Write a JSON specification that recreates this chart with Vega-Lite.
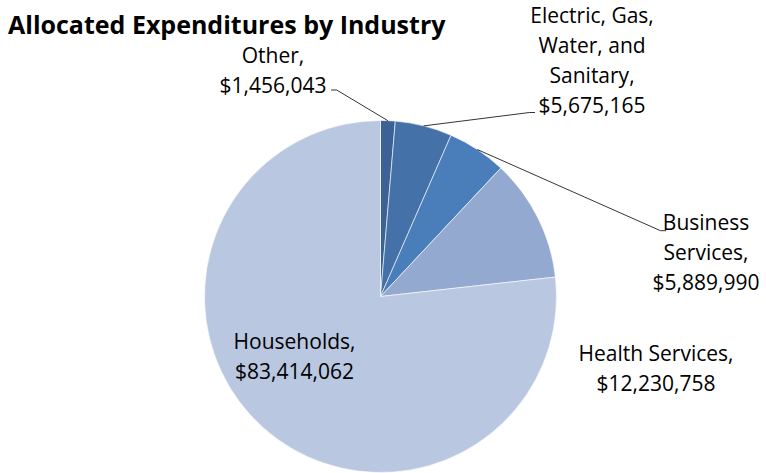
{
  "$schema": "https://vega.github.io/schema/vega-lite/v6.json",
  "width": 761,
  "height": 593,
  "autosize": {"type": "none"},
  "padding": 0,
  "background": "white",
  "title": {"text": "Allocated Expenditures by Industry", "anchor": "start", "frame": "group", "font": "Open Sans", "fontSize": 25, "fontWeight": "bold", "color": "#000000", "baseline": "alphabetic", "offset": 0, "dx": 8, "dy": 59},
  "config": {"view": {"stroke": null}},
  "data": {"values": [
    {"industry": "Other", "value": 1456043},
    {"industry": "Electric, Gas,\nWater, and\nSanitary", "value": 5675165},
    {"industry": "Business\nServices", "value": 5889990},
    {"industry": "Health Services", "value": 12230758},
    {"industry": "Households", "value": 83414062}
  ]},
  "transform": [{"calculate": "datum.industry + ',\\n$' + format(datum.value, ',')", "as": "label"}],
  "layer": [
    {
      "mark": {"type": "arc", "outerRadius": 176, "stroke": "#ffffff", "strokeWidth": 0.6},
      "encoding": {
        "theta": {"field": "value", "type": "quantitative", "stack": true},
        "order": {"field": "value", "type": "quantitative", "sort": "ascending"},
        "color": {"field": "industry", "type": "nominal", "legend": null,
          "scale": {"domain": ["Other", "Electric, Gas,\nWater, and\nSanitary", "Business\nServices", "Health Services", "Households"],
                    "range": ["#3b6196", "#4472a8", "#4a7ebb", "#94a9d0", "#b9c7e1"]}}
      }
    },
    {
      "mark": {"type": "text", "font": "Open Sans", "fontSize": 21, "lineHeight": 30, "lineBreak": "\n", "align": "center", "baseline": "alphabetic", "radius": 176, "dx": -114.9, "dy": -57.7, "color": "#000000"},
      "encoding": {
        "theta": {"field": "value", "type": "quantitative", "stack": true},
        "order": {"field": "value", "type": "quantitative", "sort": "ascending"},
        "text": {"condition": {"test": "indexof(datum.industry, 'Other') === 0", "field": "label", "type": "nominal"}, "value": ""}
      }
    },
    {
      "mark": {"type": "text", "font": "Open Sans", "fontSize": 21, "lineHeight": 30, "lineBreak": "\n", "align": "center", "baseline": "alphabetic", "radius": 176, "dx": 168.3, "dy": -102.4, "color": "#000000"},
      "encoding": {
        "theta": {"field": "value", "type": "quantitative", "stack": true},
        "order": {"field": "value", "type": "quantitative", "sort": "ascending"},
        "text": {"condition": {"test": "indexof(datum.industry, 'Electric') === 0", "field": "label", "type": "nominal"}, "value": ""}
      }
    },
    {
      "mark": {"type": "text", "font": "Open Sans", "fontSize": 21, "lineHeight": 30, "lineBreak": "\n", "align": "center", "baseline": "alphabetic", "radius": 176, "dx": 228.7, "dy": 80.5, "color": "#000000"},
      "encoding": {
        "theta": {"field": "value", "type": "quantitative", "stack": true},
        "order": {"field": "value", "type": "quantitative", "sort": "ascending"},
        "text": {"condition": {"test": "indexof(datum.industry, 'Business') === 0", "field": "label", "type": "nominal"}, "value": ""}
      }
    },
    {
      "mark": {"type": "text", "font": "Open Sans", "fontSize": 21, "lineHeight": 30, "lineBreak": "\n", "align": "center", "baseline": "alphabetic", "radius": 176, "dx": 118.1, "dy": 143.3, "color": "#000000"},
      "encoding": {
        "theta": {"field": "value", "type": "quantitative", "stack": true},
        "order": {"field": "value", "type": "quantitative", "sort": "ascending"},
        "text": {"condition": {"test": "indexof(datum.industry, 'Health') === 0", "field": "label", "type": "nominal"}, "value": ""}
      }
    },
    {
      "mark": {"type": "text", "font": "Open Sans", "fontSize": 21, "lineHeight": 30, "lineBreak": "\n", "align": "center", "baseline": "alphabetic", "radius": 176, "dx": 31.4, "dy": -78.6, "color": "#000000"},
      "encoding": {
        "theta": {"field": "value", "type": "quantitative", "stack": true},
        "order": {"field": "value", "type": "quantitative", "sort": "ascending"},
        "text": {"condition": {"test": "indexof(datum.industry, 'Households') === 0", "field": "label", "type": "nominal"}, "value": ""}
      }
    },
    {
      "data": {"values": [{}]},
      "mark": {"type": "rule", "color": "#000000", "strokeWidth": 0.8},
      "encoding": {
        "x": {"datum": 7.4, "type": "quantitative", "scale": {"domain": [-380.5, 380.5], "nice": false, "zero": false}, "axis": null},
        "y": {"datum": 175.8, "type": "quantitative", "scale": {"domain": [-296.5, 296.5], "nice": false, "zero": false}, "axis": null},
        "x2": {"datum": -43.8},
        "y2": {"datum": 206.5}
      }
    },
    {
      "data": {"values": [{}]},
      "mark": {"type": "rule", "color": "#000000", "strokeWidth": 0.8},
      "encoding": {
        "x": {"datum": -43.8, "type": "quantitative"},
        "y": {"datum": 206.5, "type": "quantitative"},
        "x2": {"datum": -49.5},
        "y2": {"datum": 206.5}
      }
    },
    {
      "data": {"values": [{}]},
      "mark": {"type": "rule", "color": "#000000", "strokeWidth": 0.8},
      "encoding": {
        "x": {"datum": 43.2, "type": "quantitative"},
        "y": {"datum": 170.6, "type": "quantitative"},
        "x2": {"datum": 149},
        "y2": {"datum": 184}
      }
    },
    {
      "data": {"values": [{}]},
      "mark": {"type": "rule", "color": "#000000", "strokeWidth": 0.8},
      "encoding": {
        "x": {"datum": 149, "type": "quantitative"},
        "y": {"datum": 184, "type": "quantitative"},
        "x2": {"datum": 154.5},
        "y2": {"datum": 184}
      }
    },
    {
      "data": {"values": [{}]},
      "mark": {"type": "rule", "color": "#000000", "strokeWidth": 0.8},
      "encoding": {
        "x": {"datum": 96.8, "type": "quantitative"},
        "y": {"datum": 147, "type": "quantitative"},
        "x2": {"datum": 280},
        "y2": {"datum": 65.8}
      }
    },
    {
      "data": {"values": [{}]},
      "mark": {"type": "rule", "color": "#000000", "strokeWidth": 0.8},
      "encoding": {
        "x": {"datum": 280, "type": "quantitative"},
        "y": {"datum": 65.8, "type": "quantitative"},
        "x2": {"datum": 285.5},
        "y2": {"datum": 65.8}
      }
    }
  ]
}
